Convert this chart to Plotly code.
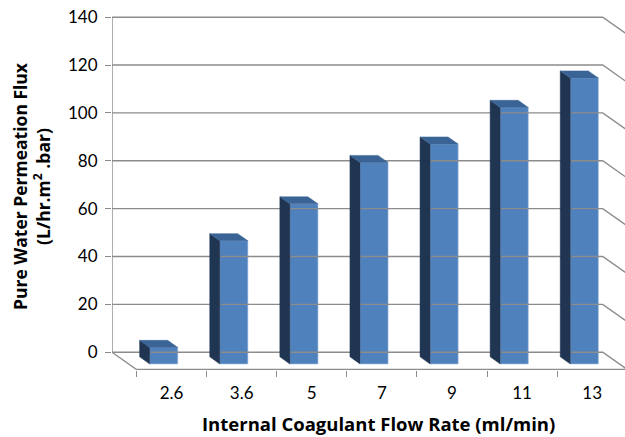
import plotly.graph_objects as go

# ---- data ----
categories = ["2.6", "3.6", "5", "7", "9", "11", "13"]
flux = [6.9, 51.5, 66.9, 84.2, 91.9, 107.2, 119.5]
y_ticks = [0, 20, 40, 60, 80, 100, 120, 140]
x_title = "Internal Coagulant Flow Rate (ml/min)"
y_title = "<b>Pure Water Permeation Flux</b><br><b>(L/hr.m<sup>2</sup> .bar)</b>"

# ---- 3D-look geometry (in axis units) ----
DX = 0.35     # depth shift in category units
DY = 7.23     # depth shift in value units
FB, FF = 0.27, 0.68   # back / front depth fractions of the bars
W = 0.40      # bar width
n = len(categories)

FRONT = "#4F81BD"
SIDE = "#1F3552"
TOP = "#3A6496"
GRID = "#8C8C8C"
FONT = "Lato"
TFONT = "Open Sans"

fig = go.Figure()

# back wall gridlines + right side wall diagonals
gx, gy = [], []
for v in y_ticks:
    gx += [-0.5, n - 0.5, n - 0.5 + DX, None]
    gy += [v, v, v - DY, None]
# floor (left diagonal + front edge) and vertical axis line
gx += [-0.5, -0.5 + DX, n - 0.5 + DX + 1, None, -0.5, -0.5]
gy += [0, -DY, -DY, None, 0, max(y_ticks)]
fig.add_trace(go.Scatter(x=gx, y=gy, mode="lines", line=dict(color=GRID, width=1.4),
                         hoverinfo="skip", showlegend=False))

# bars: side and top faces as polygons, front face as a real bar
for i, v in enumerate(flux):
    xl_b = i - W / 2 + FB * DX
    xl_f = i - W / 2 + FF * DX
    xr_b = i + W / 2 + FB * DX
    xr_f = i + W / 2 + FF * DX
    fig.add_trace(go.Scatter(
        x=[xl_b, xl_f, xl_f, xl_b, xl_b],
        y=[-FB * DY, -FF * DY, v - FF * DY, v - FB * DY, -FB * DY],
        fill="toself", fillcolor=SIDE, mode="lines", line=dict(color=SIDE, width=0.5),
        hoverinfo="skip", showlegend=False))
    fig.add_trace(go.Scatter(
        x=[xl_b, xr_b, xr_f, xl_f, xl_b],
        y=[v - FB * DY, v - FB * DY, v - FF * DY, v - FF * DY, v - FB * DY],
        fill="toself", fillcolor=TOP, mode="lines", line=dict(color=TOP, width=0.5),
        hoverinfo="skip", showlegend=False))

fig.add_trace(go.Bar(
    x=[i + FF * DX for i in range(n)], y=flux, base=[-FF * DY] * n, width=W,
    marker=dict(color=FRONT, line=dict(color="#9DB9DE", width=0.6)),
    showlegend=False, hoverinfo="skip"))

# invisible trace on the label axis
fig.add_trace(go.Scatter(x=[0], y=[0], xaxis="x2", mode="markers",
                         marker=dict(opacity=0), hoverinfo="skip", showlegend=False))

px_per_cat = 70.1
px_per_val = 2.393
plot_w = 625 - 112
plot_h = 437 - 10 - 67
y0 = -DY - 0.5 / px_per_val
xr = [-0.5, -0.5 + plot_w / px_per_cat]

fig.update_layout(
    width=625, height=437,
    margin=dict(l=112, r=0, t=10, b=67),
    paper_bgcolor="white", plot_bgcolor="white",
    font=dict(family=FONT, size=17, color="black"),
    barmode="overlay",
    xaxis=dict(range=xr, showgrid=False, zeroline=False, showline=False,
               tickmode="array", tickvals=[i - 0.5 + DX for i in range(n + 1)],
               ticktext=[""] * (n + 1), ticks="outside", ticklen=6,
               tickcolor=GRID, tickwidth=1.4),
    xaxis2=dict(range=xr, overlaying="x", side="bottom", anchor="y",
                showgrid=False, zeroline=False, showline=False,
                tickmode="array", tickvals=[i + DX for i in range(n)],
                ticktext=categories, ticks="", ticklabelstandoff=11,
                tickfont=dict(family=FONT, size=17)),
    yaxis=dict(range=[y0, y0 + plot_h / px_per_val], showgrid=False, zeroline=False,
               showline=False, tickmode="array", tickvals=y_ticks,
               ticks="outside", ticklen=6, tickcolor=GRID, tickwidth=1.4,
               ticklabelstandoff=4, tickfont=dict(family=FONT, size=17)),
    annotations=[
        dict(text=y_title, textangle=-90, xref="paper", yref="paper",
             x=(31 - 112) / plot_w, y=(370 - 186) / plot_h,
             xanchor="center", yanchor="middle", showarrow=False,
             font=dict(family=TFONT, size=17.5, color="black")),
        dict(text="<b>" + x_title + "</b>", xref="paper", yref="paper",
             x=(378 - 112) / plot_w, y=(370 - 424) / plot_h,
             xanchor="center", yanchor="middle", showarrow=False,
             font=dict(family=TFONT, size=18.5, color="black")),
    ],
)

fig.write_html("out.html")
